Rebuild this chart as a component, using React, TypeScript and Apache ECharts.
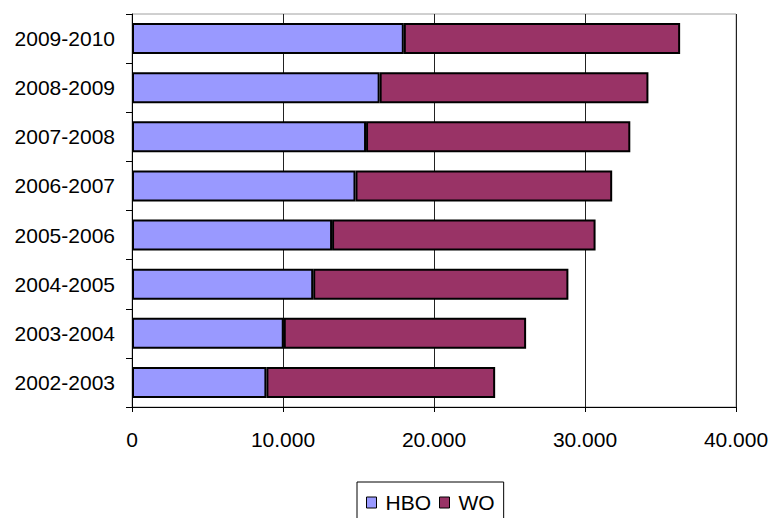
import React, { useEffect, useRef } from "react";
import * as echarts from "echarts";

const categories = [
  "2002-2003",
  "2003-2004",
  "2004-2005",
  "2005-2006",
  "2006-2007",
  "2007-2008",
  "2008-2009",
  "2009-2010",
];
const hboValues = [8900, 10050, 12000, 13250, 14800, 15500, 16400, 18000];
const woValues = [15150, 16050, 16900, 17450, 17000, 17500, 17800, 18300];
const xTicks = [0, 10000, 20000, 30000, 40000];

const FONT = "'Liberation Sans', Arial, sans-serif";

function fmt(v: number): string {
  return v === 0 ? "0" : String(v).replace(/\B(?=(\d{3})+(?!\d))/g, ".");
}

export default function App() {
  const ref = useRef<HTMLDivElement>(null);
  useEffect(() => {
    if (!ref.current) return;
    const chart = echarts.init(ref.current, null, { renderer: "svg" });
    chart.setOption({
      animation: false,
      backgroundColor: "#ffffff",
      textStyle: { fontFamily: FONT },
      grid: {
        left: 132,
        right: 36,
        top: 14,
        bottom: 111,
        show: true,
        borderColor: "#a0a0a0",
        borderWidth: 1,
      },
      legend: {
        left: 357,
        top: 482,
        orient: "horizontal",
        data: ["HBO", "WO"],
        itemWidth: 10,
        itemHeight: 11,
        itemGap: 8,
        padding: [10, 9, 10, 9],
        borderColor: "#000000",
        borderWidth: 1,
        icon: "rect",
        textStyle: {
          fontFamily: FONT,
          fontSize: 21,
          color: "#000000",
          padding: [0, 0, 0, 4],
        },
        itemStyle: { borderColor: "#000000", borderWidth: 1 },
      },
      xAxis: {
        type: "value",
        min: xTicks[0],
        max: xTicks[xTicks.length - 1],
        interval: 10000,
        axisLine: { show: true, lineStyle: { color: "#000000", width: 1 } },
        axisTick: { show: true, inside: false, length: 5, lineStyle: { color: "#000000" } },
        splitLine: { show: true, lineStyle: { color: "#222222", width: 1 } },
        axisLabel: {
          fontFamily: FONT,
          fontSize: 21,
          color: "#000000",
          margin: 22,
          formatter: (v: number) => fmt(v),
        },
      },
      yAxis: {
        type: "category",
        data: categories,
        axisLine: { show: true, lineStyle: { color: "#000000", width: 1 } },
        axisTick: { show: true, inside: false, length: 6, lineStyle: { color: "#000000" } },
        splitLine: { show: false },
        axisLabel: {
          fontFamily: FONT,
          fontSize: 21,
          color: "#000000",
          margin: 17,
        },
      },
      series: [
        {
          name: "HBO",
          type: "bar",
          stack: "total",
          data: hboValues,
          barCategoryGap: "37%",
          itemStyle: { color: "#9999FF", borderColor: "#000000", borderWidth: 2 },
        },
        {
          name: "WO",
          type: "bar",
          stack: "total",
          data: woValues,
          barCategoryGap: "37%",
          itemStyle: { color: "#993366", borderColor: "#000000", borderWidth: 2 },
        },
      ],
    });
    return () => chart.dispose();
  }, []);
  return <div ref={ref} style={{ width: 772, height: 518, position: "absolute", left: 0, top: 0 }} />;
}
